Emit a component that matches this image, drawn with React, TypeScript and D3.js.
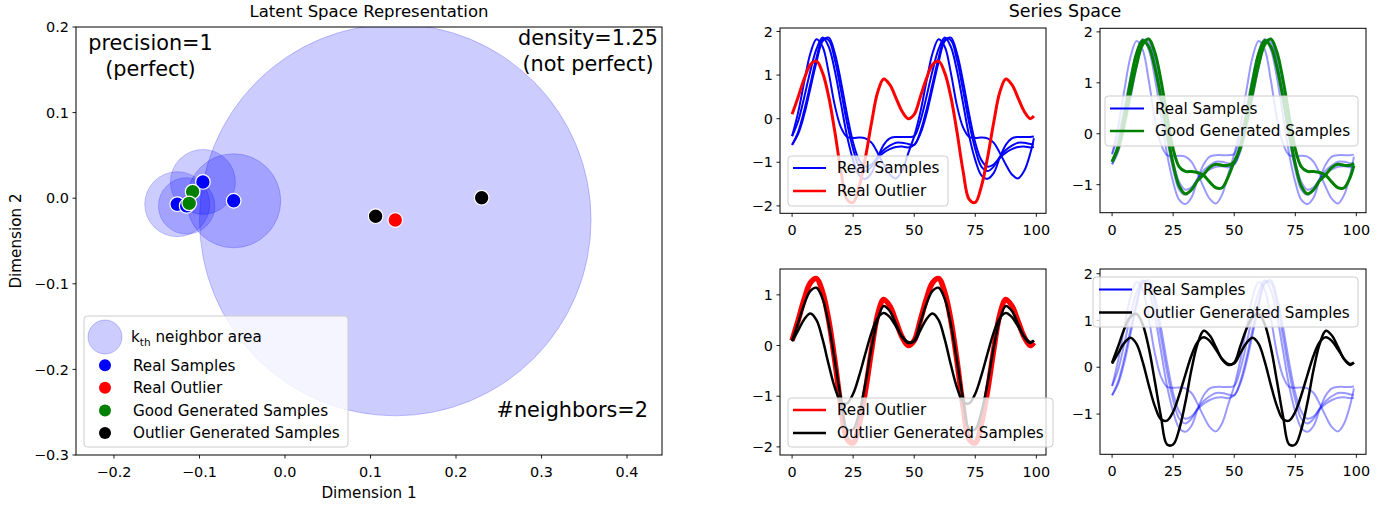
import React from "react";
import * as d3 from "d3";

const FONT = "'DejaVu Sans', sans-serif";

// ---- latent space (left plot) ----
const realX = [-0.126, -0.115, -0.096, -0.06];
const realY = [-0.007, -0.009, 0.019, -0.003];
const realRadius = [0.038, 0.033, 0.038, 0.055];
const outlierX = [0.129];
const outlierY = [-0.0255];
const outlierRadius = [0.229];
const goodX = [-0.108, -0.112];
const goodY = [0.0076, -0.006];
const outGenX = [0.106, 0.23];
const outGenY = [-0.021, 0.0006];

const latentXTicks = [-0.2, -0.1, 0, 0.1, 0.2, 0.3, 0.4];
const latentYTicks = [-0.3, -0.2, -0.1, 0, 0.1, 0.2];

// ---- series space (right plots), read every 2.5 steps ----
const seriesX = [
  0, 2.5, 5, 7.5, 10, 12.5, 15, 17.5, 20, 22.5, 25, 27.5, 30, 32.5, 35, 37.5, 40, 42.5, 45, 47.5,
  50, 52.5, 55, 57.5, 60, 62.5, 65, 67.5, 70, 72.5, 75, 77.5, 80, 82.5, 85, 87.5, 90, 92.5, 95, 97.5,
  99,
];
const seriesXTicks = [0, 25, 50, 75, 100];

const realSeries1 = [
  -0.4, 0.15, 0.85, 1.5, 1.82, 1.65, 1.05, 0.3, -0.2, -0.42, -0.44, -0.43, -0.45, -0.55, -0.78, -1.05, -1.28, -1.37, -1.2, -0.8,
  -0.4, 0.15, 0.85, 1.5, 1.82, 1.65, 1.05, 0.3, -0.2, -0.42, -0.44, -0.43, -0.45, -0.55, -0.78, -1.05, -1.28, -1.37, -1.2, -0.8,
  -0.45,
];
const realSeries2 = [
  -0.4, -0.05, 0.5, 1.1, 1.6, 1.86, 1.65, 1.1, 0.35, -0.4, -0.95, -1.3, -1.38, -1.25, -0.9, -0.6, -0.45, -0.42, -0.42, -0.42,
  -0.4, -0.05, 0.5, 1.1, 1.6, 1.86, 1.65, 1.1, 0.35, -0.4, -0.95, -1.3, -1.38, -1.25, -0.9, -0.6, -0.45, -0.42, -0.42, -0.42,
  -0.41,
];
const realSeries3 = [
  -0.6, -0.3, 0.2, 0.8, 1.4, 1.82, 1.8, 1.35, 0.65, -0.1, -0.7, -1.1, -1.2, -1.1, -0.88, -0.72, -0.62, -0.55, -0.55, -0.58,
  -0.6, -0.3, 0.2, 0.8, 1.4, 1.82, 1.8, 1.35, 0.65, -0.1, -0.7, -1.1, -1.2, -1.1, -0.88, -0.72, -0.62, -0.55, -0.55, -0.58,
  -0.59,
];
const realSeries4 = [
  -0.6, -0.35, 0.1, 0.7, 1.3, 1.78, 1.86, 1.5, 0.85, 0.1, -0.55, -0.95, -1.1, -1.05, -0.9, -0.78, -0.7, -0.65, -0.64, -0.66,
  -0.6, -0.35, 0.1, 0.7, 1.3, 1.78, 1.86, 1.5, 0.85, 0.1, -0.55, -0.95, -1.1, -1.05, -0.9, -0.78, -0.7, -0.65, -0.64, -0.66,
  -0.65,
];
const outlierSeries = [
  0.1, 0.5, 0.92, 1.24, 1.32, 1.05, 0.5, -0.3, -1.2, -1.85, -1.92, -1.55, -0.9, -0.1, 0.6, 0.91, 0.78, 0.48, 0.17, 0.0,
  0.1, 0.5, 0.92, 1.24, 1.32, 1.05, 0.5, -0.3, -1.2, -1.85, -1.92, -1.55, -0.9, -0.1, 0.6, 0.91, 0.78, 0.48, 0.17, 0.0,
  0.06,
];
const goodSeries1 = [
  -0.55, -0.24, 0.35, 1.02, 1.57, 1.83, 1.71, 1.3, 0.7, 0.02, -0.6, -1.03, -1.18, -1.1, -0.92, -0.8, -0.66, -0.6, -0.62, -0.62,
  -0.55, -0.24, 0.35, 1.02, 1.57, 1.83, 1.71, 1.3, 0.7, 0.02, -0.6, -1.03, -1.18, -1.1, -0.92, -0.8, -0.66, -0.6, -0.62, -0.62,
  -0.58,
];
const goodSeries2 = [
  -0.55, -0.28, 0.22, 0.8, 1.35, 1.75, 1.86, 1.6, 1.05, 0.35, -0.3, -0.65, -0.74, -0.74, -0.76, -0.82, -0.95, -1.06, -1.06, -0.85,
  -0.55, -0.28, 0.22, 0.8, 1.35, 1.75, 1.86, 1.6, 1.05, 0.35, -0.3, -0.65, -0.74, -0.74, -0.76, -0.82, -0.95, -1.06, -1.06, -0.85,
  -0.62,
];
const outGenSeries1 = [
  0.1, 0.45, 0.82, 1.08, 1.14, 0.92, 0.42, -0.3, -1.05, -1.65, -1.65, -1.32, -0.75, -0.05, 0.5, 0.78, 0.68, 0.43, 0.17, 0.05,
  0.1, 0.45, 0.82, 1.08, 1.14, 0.92, 0.42, -0.3, -1.05, -1.65, -1.65, -1.32, -0.75, -0.05, 0.5, 0.78, 0.68, 0.43, 0.17, 0.05,
  0.1,
];
const outGenSeries2 = [
  0.08, 0.3, 0.52, 0.63, 0.5, 0.12, -0.38, -0.83, -1.11, -1.14, -0.95, -0.59, -0.16, 0.25, 0.54, 0.64, 0.56, 0.38, 0.18, 0.07,
  0.08, 0.3, 0.52, 0.63, 0.5, 0.12, -0.38, -0.83, -1.11, -1.14, -0.95, -0.59, -0.16, 0.25, 0.54, 0.64, 0.56, 0.38, 0.18, 0.07,
  0.1,
];

const realAll = [realSeries1, realSeries2, realSeries3, realSeries4];

const BLUE = "#0000ff";
const RED = "#ff0000";
const GREEN = "#008000";
const BLACK = "#000000";

type Row = { label: string; color: string; width: number };
type Line = { values: number[]; color: string; width: number; opacity?: number };

const Legend = ({ x, y, w, h, hx0, hx1, tx, rowY, rows }: any) => (
  <g>
    <rect x={x} y={y} width={w} height={h} rx={3.5} fill="white" fillOpacity={0.8} stroke="#cccccc" strokeWidth={1} />
    {rows.map((r: Row, i: number) => (
      <g key={i}>
        <line x1={hx0} x2={hx1} y1={rowY[i]} y2={rowY[i]} stroke={r.color} strokeWidth={r.width} />
        <text x={tx} y={rowY[i]} dy="0.36em" fontSize={15.2}>
          {r.label}
        </text>
      </g>
    ))}
  </g>
);

const SeriesPanel = ({ id, x0, x1, y0, y1, yDomain, yTicks, lines, legend }: any) => {
  const xs = d3.scaleLinear().domain([-4.95, 103.95]).range([x0, x1]);
  const ys = d3.scaleLinear().domain(yDomain).range([y1, y0]);
  const gen = d3
    .line<number>()
    .x((_, i) => xs(seriesX[i]))
    .y((d) => ys(d))
    .curve(d3.curveCatmullRom);
  const fmt = d3.format("d");
  return (
    <g>
      <clipPath id={id}>
        <rect x={x0} y={y0} width={x1 - x0} height={y1 - y0} />
      </clipPath>
      <g clipPath={`url(#${id})`}>
        {lines.map((l: Line, i: number) => (
          <path
            key={i}
            d={gen(l.values) || ""}
            fill="none"
            stroke={l.color}
            strokeWidth={l.width}
            strokeOpacity={l.opacity ?? 1}
            strokeLinejoin="round"
          />
        ))}
      </g>
      <rect x={x0} y={y0} width={x1 - x0} height={y1 - y0} fill="none" stroke="black" strokeWidth={1} />
      {seriesXTicks.map((t) => (
        <g key={t}>
          <line x1={xs(t)} x2={xs(t)} y1={y1} y2={y1 + 3.5} stroke="black" strokeWidth={0.9} />
          <text x={xs(t)} y={y1 + 22} textAnchor="middle" fontSize={14.4}>
            {fmt(t)}
          </text>
        </g>
      ))}
      {yTicks.map((t: number) => (
        <g key={t}>
          <line x1={x0 - 3.5} x2={x0} y1={ys(t)} y2={ys(t)} stroke="black" strokeWidth={0.9} />
          <text x={x0 - 7} y={ys(t)} dy="0.36em" textAnchor="end" fontSize={14.4}>
            {fmt(t)}
          </text>
        </g>
      ))}
      <Legend {...legend} />
    </g>
  );
};

const LatentPlot = () => {
  const x0 = 76, x1 = 662, y0 = 27, y1 = 455;
  const xs = d3.scaleLinear().domain([-0.2444, 0.4409]).range([x0, x1]);
  const ys = d3.scaleLinear().domain([-0.3, 0.2]).range([y1, y0]);
  const px = (v: number) => xs(v) - xs(0);
  const fmt = d3.format(".1f");
  const dot = (cx: number, cy: number, color: string, key: string) => (
    <circle key={key} cx={xs(cx)} cy={ys(cy)} r={7.3} fill={color} stroke="white" strokeWidth={1.2} />
  );
  const legendRows = [
    { label: "Real Samples", color: BLUE },
    { label: "Real Outlier", color: RED },
    { label: "Good Generated Samples", color: GREEN },
    { label: "Outlier Generated Samples", color: BLACK },
  ];
  const rowY = [365.3, 387.8, 410.5, 433];
  return (
    <g>
      <clipPath id="latent-clip">
        <rect x={x0} y={y0} width={x1 - x0} height={y1 - y0} />
      </clipPath>
      <g clipPath="url(#latent-clip)">
        {realX.map((v, i) => (
          <circle
            key={"c" + i}
            cx={xs(v)}
            cy={ys(realY[i])}
            r={px(realRadius[i])}
            fill={BLUE}
            fillOpacity={0.2}
            stroke={BLUE}
            strokeOpacity={0.2}
            strokeWidth={1}
          />
        ))}
        {outlierX.map((v, i) => (
          <circle
            key={"o" + i}
            cx={xs(v)}
            cy={ys(outlierY[i])}
            r={px(outlierRadius[i])}
            fill={BLUE}
            fillOpacity={0.2}
            stroke={BLUE}
            strokeOpacity={0.2}
            strokeWidth={1}
          />
        ))}
        {realX.map((v, i) => dot(v, realY[i], BLUE, "r" + i))}
        {outlierX.map((v, i) => dot(v, outlierY[i], RED, "ro" + i))}
        {goodX.map((v, i) => dot(v, goodY[i], GREEN, "g" + i))}
        {outGenX.map((v, i) => dot(v, outGenY[i], BLACK, "b" + i))}
      </g>
      <rect x={x0} y={y0} width={x1 - x0} height={y1 - y0} fill="none" stroke="black" strokeWidth={1} />
      {latentXTicks.map((t) => (
        <g key={t}>
          <line x1={xs(t)} x2={xs(t)} y1={y1} y2={y1 + 3.5} stroke="black" strokeWidth={0.9} />
          <text x={xs(t)} y={y1 + 22} textAnchor="middle" fontSize={14.4}>
            {fmt(t)}
          </text>
        </g>
      ))}
      {latentYTicks.map((t) => (
        <g key={t}>
          <line x1={x0 - 3.5} x2={x0} y1={ys(t)} y2={ys(t)} stroke="black" strokeWidth={0.9} />
          <text x={x0 - 7} y={ys(t)} dy="0.36em" textAnchor="end" fontSize={14.4}>
            {fmt(t)}
          </text>
        </g>
      ))}
      <text x={(x0 + x1) / 2} y={17} textAnchor="middle" fontSize={16.5}>
        Latent Space Representation
      </text>
      <text x={(x0 + x1) / 2} y={498} textAnchor="middle" fontSize={15.2}>
        Dimension 1
      </text>
      <text transform={`translate(20.5, ${(y0 + y1) / 2}) rotate(-90)`} textAnchor="middle" fontSize={15.2}>
        Dimension 2
      </text>

      <text x={150.5} y={50} textAnchor="middle" fontSize={20.8}>precision=1</text>
      <text x={150.5} y={76} textAnchor="middle" fontSize={20.8}>(perfect)</text>
      <text x={588} y={45} textAnchor="middle" fontSize={20.8}>density=1.25</text>
      <text x={588} y={71} textAnchor="middle" fontSize={20.8}>(not perfect)</text>
      <text x={648} y={417} textAnchor="end" fontSize={20.8}>#neighbors=2</text>

      <g>
        <rect x={84} y={316} width={264} height={131} rx={3.5} fill="white" fillOpacity={0.8} stroke="#cccccc" strokeWidth={1} />
        <ellipse cx={105} cy={337} rx={17} ry={17} fill={BLUE} fillOpacity={0.2} stroke={BLUE} strokeOpacity={0.2} />
        <text x={131} y={337} dy="0.36em" fontSize={15.2}>
          <tspan>k</tspan>
          <tspan fontSize={10.5} dy={4}>th</tspan>
          <tspan dy={-4}> neighbor area</tspan>
        </text>
        {legendRows.map((r, i) => (
          <g key={r.label}>
            <circle cx={105} cy={rowY[i]} r={6} fill={r.color} />
            <text x={133} y={rowY[i]} dy="0.36em" fontSize={15.2}>
              {r.label}
            </text>
          </g>
        ))}
      </g>
    </g>
  );
};

export default function App() {
  const realThin = realAll.map((v) => ({ values: v, color: BLUE, width: 2 }));
  const realFaint = realAll.map((v) => ({ values: v, color: BLUE, width: 2, opacity: 0.4 }));
  const panels = [
    {
      id: "p-tl",
      x0: 780, x1: 1046, y0: 28, y1: 213.3,
      yDomain: [-2.17, 2.08],
      yTicks: [-2, -1, 0, 1, 2],
      lines: [...realThin, { values: outlierSeries, color: RED, width: 3 }],
      legend: {
        x: 788, y: 156, w: 160, h: 50, hx0: 793, hx1: 826, tx: 837, rowY: [168, 191],
        rows: [
          { label: "Real Samples", color: BLUE, width: 2 },
          { label: "Real Outlier", color: RED, width: 2.5 },
        ],
      },
    },
    {
      id: "p-tr",
      x0: 1100, x1: 1366, y0: 28.3, y1: 212.7,
      yDomain: [-1.55, 2.07],
      yTicks: [-1, 0, 1, 2],
      lines: [
        ...realFaint,
        { values: goodSeries1, color: GREEN, width: 3 },
        { values: goodSeries2, color: GREEN, width: 3 },
      ],
      legend: {
        x: 1105, y: 96, w: 253, h: 50, hx0: 1110, hx1: 1144, tx: 1155, rowY: [108.5, 131],
        rows: [
          { label: "Real Samples", color: BLUE, width: 2 },
          { label: "Good Generated Samples", color: GREEN, width: 2.5 },
        ],
      },
    },
    {
      id: "p-bl",
      x0: 780, x1: 1046, y0: 269, y1: 455,
      yDomain: [-2.16, 1.51],
      yTicks: [-2, -1, 0, 1],
      lines: [
        { values: outlierSeries, color: RED, width: 5.5 },
        { values: outGenSeries1, color: BLACK, width: 2.5 },
        { values: outGenSeries2, color: BLACK, width: 2.5 },
      ],
      legend: {
        x: 788, y: 398, w: 265, h: 49, hx0: 793, hx1: 826, tx: 837, rowY: [410, 433],
        rows: [
          { label: "Real Outlier", color: RED, width: 2.5 },
          { label: "Outlier Generated Samples", color: BLACK, width: 2.5 },
        ],
      },
    },
    {
      id: "p-br",
      x0: 1100, x1: 1366, y0: 269, y1: 454.3,
      yDomain: [-1.86, 2.1],
      yTicks: [-1, 0, 1, 2],
      lines: [
        ...realFaint,
        { values: outGenSeries1, color: BLACK, width: 2.5 },
        { values: outGenSeries2, color: BLACK, width: 2.5 },
      ],
      legend: {
        x: 1093, y: 277, w: 265, h: 50, hx0: 1099, hx1: 1132, tx: 1143, rowY: [289.5, 312.5],
        rows: [
          { label: "Real Samples", color: BLUE, width: 2 },
          { label: "Outlier Generated Samples", color: BLACK, width: 2.5 },
        ],
      },
    },
  ];

  return (
    <svg
      width={1400}
      height={506}
      style={{ position: "absolute", left: 0, top: 0, display: "block" }}
      fontFamily={FONT}
      fill="black"
    >
      <rect width={1400} height={506} fill="white" />
      <LatentPlot />
      <text x={1065} y={17} textAnchor="middle" fontSize={17.5}>
        Series Space
      </text>
      {panels.map((p) => (
        <SeriesPanel key={p.id} {...p} />
      ))}
    </svg>
  );
}
